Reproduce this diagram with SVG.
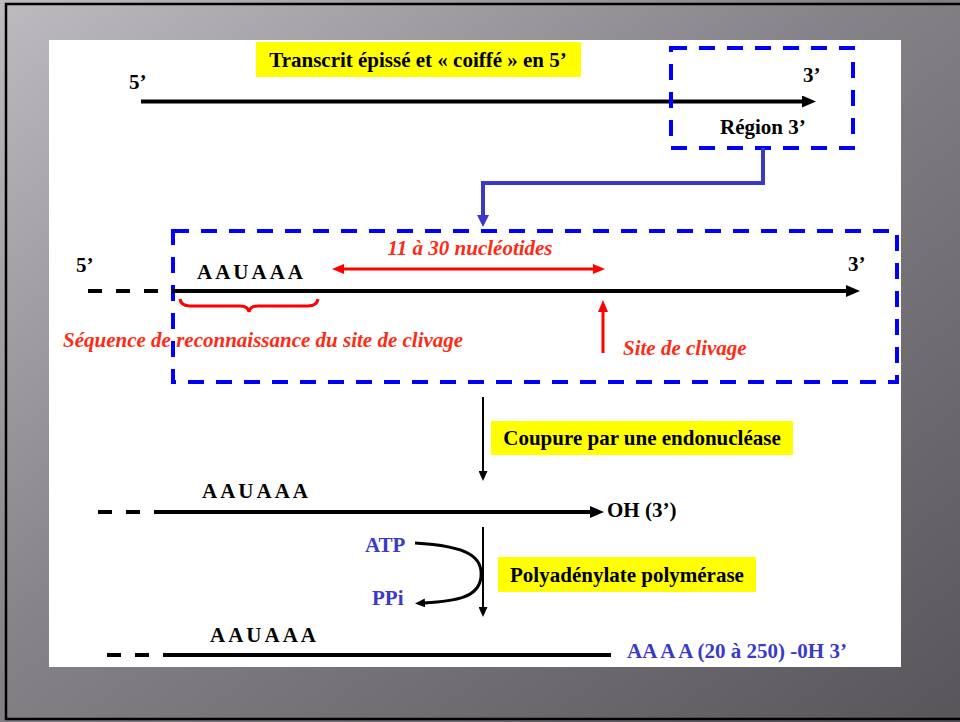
<svg xmlns="http://www.w3.org/2000/svg" width="960" height="722" viewBox="0 0 960 722">
  <defs>
    <linearGradient id="frameGrad" x1="0" y1="0" x2="1" y2="1">
      <stop offset="0" stop-color="#bdbbc0"/>
      <stop offset="0.45" stop-color="#858388"/>
      <stop offset="1" stop-color="#58565b"/>
    </linearGradient>
    <marker id="headBlack" markerUnits="userSpaceOnUse" markerWidth="14" markerHeight="12" refX="2" refY="6" orient="auto">
      <path d="M0,0 L14,6 L0,12 z" fill="#000"/>
    </marker>
    <marker id="headThin" markerUnits="userSpaceOnUse" markerWidth="10" markerHeight="9" refX="1" refY="4.5" orient="auto">
      <path d="M0,0 L10,4.5 L0,9 z" fill="#000"/>
    </marker>
    <marker id="headRed" markerUnits="userSpaceOnUse" markerWidth="12" markerHeight="10" refX="1" refY="5" orient="auto-start-reverse">
      <path d="M0,0 L12,5 L0,10 z" fill="#ff0000"/>
    </marker>
    <marker id="headBlue" markerUnits="userSpaceOnUse" markerWidth="12" markerHeight="12" refX="1" refY="6" orient="auto">
      <path d="M0,0 L12,6 L0,12 z" fill="#3a3ac8"/>
    </marker>
    <style>
      .lbl { font-family: "Liberation Serif", "Times New Roman", serif; font-weight: bold; font-size: 21px; fill: #000; }
      .seq { font-family: "Liberation Serif", "Times New Roman", serif; font-weight: bold; font-size: 21px; fill: #000; letter-spacing: 3px; }
      .red { font-family: "Liberation Serif", "Times New Roman", serif; font-weight: bold; font-style: italic; font-size: 21px; fill: #ff2a14; }
      .blue { font-family: "Liberation Serif", "Times New Roman", serif; font-weight: bold; font-size: 21px; fill: #3a3ac8; }
      .strand { stroke: #000; stroke-width: 4; fill: none; }
      .dashStrand { stroke: #000; stroke-width: 4; fill: none; stroke-dasharray: 14 14; }
      .dashBox { stroke: #0000ff; stroke-width: 4; fill: none; stroke-dasharray: 16 12; }
      .step { stroke: #000; stroke-width: 2; fill: none; }
      .tag { fill: #ffff00; }
    </style>
  </defs>

  <!-- slide frame -->
  <rect x="0" y="0" width="960" height="722" fill="url(#frameGrad)"/>
  <rect x="6" y="4" width="964" height="715" fill="none" stroke="#000" stroke-width="2.5"/>
  <rect x="49" y="40" width="852" height="627" fill="#fff"/>

  <!-- spliced, capped transcript -->
  <g id="transcript">
    <rect class="tag" x="256" y="42" width="325" height="35"/>
    <text class="lbl" x="418" y="67" text-anchor="middle">Transcrit épissé et « coiffé » en 5’</text>
    <text class="lbl" x="129" y="89">5’</text>
    <line class="strand" x1="141" y1="101.5" x2="804" y2="101.5" marker-end="url(#headBlack)"/>
  </g>

  <g id="region3">
    <rect class="dashBox" x="671" y="48" width="182" height="100"/>
    <text class="lbl" x="803" y="82">3’</text>
    <text class="lbl" x="720" y="134">Région 3’</text>
  </g>

  <!-- enlarged 3' region -->
  <g id="region3-detail">
    <rect class="dashBox" x="173" y="231" width="724" height="151"/>
    <text class="lbl" x="76" y="272">5’</text>
    <line class="dashStrand" x1="88" y1="291" x2="172" y2="291"/>
    <line class="strand" x1="172" y1="291" x2="848" y2="291" marker-end="url(#headBlack)"/>
    <text class="lbl" x="848" y="271">3’</text>
    <text class="seq" x="197" y="279">AAUAAA</text>
    <text class="red" x="470" y="255" text-anchor="middle">11 à 30 nucléotides</text>
    <line x1="343" y1="269" x2="594" y2="269" stroke="#ff0000" stroke-width="3" marker-start="url(#headRed)" marker-end="url(#headRed)"/>
    <path d="M180,299 Q181,306 190,306 L240,306 Q248,306 249,312 Q250,306 258,306 L308,306 Q317,306 318,299" fill="none" stroke="#ff0000" stroke-width="3"/>
    <text class="red" x="63" y="347">Séquence de reconnaissance du site de clivage</text>
    <line x1="603" y1="353" x2="603" y2="311" stroke="#ff0000" stroke-width="3" marker-end="url(#headRed)"/>
    <text class="red" x="623" y="355">Site de clivage</text>
  </g>

  <!-- cleaved product -->
  <g id="cleaved">
    <line class="dashStrand" x1="98" y1="512" x2="156" y2="512" stroke-dasharray="17 12"/>
    <line class="strand" x1="156" y1="512" x2="592" y2="512" marker-end="url(#headBlack)"/>
    <text class="seq" x="202" y="498">AAUAAA</text>
    <text class="lbl" x="607" y="517">OH (3’)</text>
  </g>

  <!-- polyadenylated product -->
  <g id="polyA">
    <line class="dashStrand" x1="107" y1="655" x2="163" y2="655" stroke-dasharray="18 10"/>
    <line class="strand" x1="163" y1="655" x2="611" y2="655"/>
    <text class="seq" x="210" y="642">AAUAAA</text>
    <text class="blue" x="627" y="658">AA A A (20 à 250) -0H 3’</text>
  </g>

  <g id="endonuclease">
    <rect class="tag" x="491" y="421" width="302" height="34"/>
    <text class="lbl" x="642" y="445" text-anchor="middle">Coupure par une endonucléase</text>
  </g>

  <g id="polymerase">
    <rect class="tag" x="498" y="557" width="258" height="35"/>
    <text class="lbl" x="627" y="582" text-anchor="middle">Polyadénylate polymérase</text>
  </g>

  <g id="atp">
    <text class="blue" x="365" y="552">ATP</text>
  </g>
  <g id="ppi">
    <text class="blue" x="372" y="605">PPi</text>
  </g>

  <!-- connectors -->
  <g id="connectors">
    <path d="M763,148 L763,183 L483,183 L483,216" fill="none" stroke="#3a3ac8" stroke-width="4" marker-end="url(#headBlue)"/>
    <line class="step" x1="483" y1="397" x2="483" y2="472" marker-end="url(#headThin)"/>
    <line class="step" x1="483" y1="527" x2="483" y2="608" marker-end="url(#headThin)"/>
    <path d="M415,543 C470,546 483,558 481,577 C479,598 455,601 424,603" fill="none" stroke="#000" stroke-width="3" marker-end="url(#headThin)"/>
  </g>
</svg>
